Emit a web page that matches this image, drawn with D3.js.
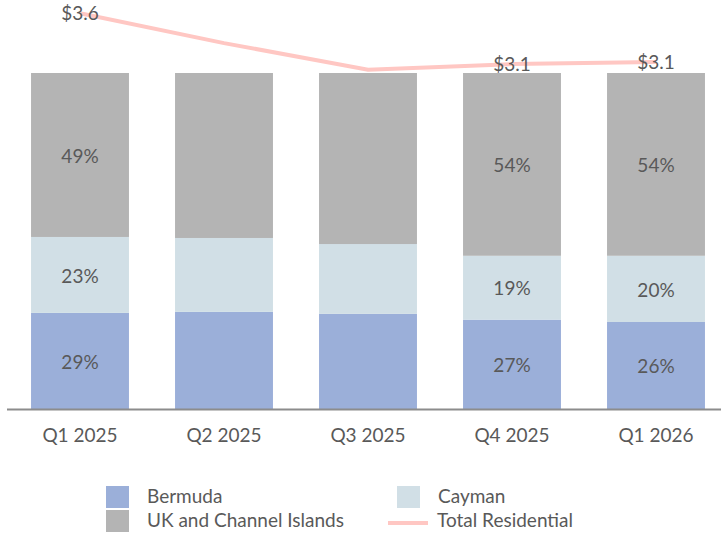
<!DOCTYPE html>
<html>
<head>
<meta charset="utf-8">
<script src="https://cdn.jsdelivr.net/npm/d3@7"></script>
<style>
    body { margin: 0; background: #fff; }
    svg text { font-family: Lato, "Open Sans", sans-serif; fill: #595959; }
</style>
</head>
<body>
<script>
(function(){

    var quarters = ["Q1 2025", "Q2 2025", "Q3 2025", "Q4 2025", "Q1 2026"];
    var bermuda = [28.6, 28.9, 28.3, 26.6, 25.9];
    var cayman = [22.6, 22.0, 20.8, 19.0, 19.7];
    var ukChannel = [48.8, 49.1, 50.9, 54.4, 54.4];
    var totalResidential = [3.58, 3.31, 3.07, 3.12, 3.14];
    var showLabel = [true, false, false, true, true];

    var seriesNames = ["Bermuda", "Cayman", "UK and Channel Islands"];
    var seriesValues = [bermuda, cayman, ukChannel];
    var seriesColors = ["#9bafd9", "#d1dfe6", "#b4b4b4"];
    var lineColor = "#ffc7c3";

    window.onload = drawChart();

    function drawChart() {

        var width = 721,
            height = 535,
            plotTop = 73,
            plotBottom = 409,
            fontSize = "19px";

        var svg = d3.select("body")
            .append("svg")
            .attr("width", width)
            .attr("height", height);

        var x = d3.scaleBand()
            .domain(quarters)
            .range([8, 728])
            .paddingInner(0.32)
            .paddingOuter(0.16);

        var y = d3.scaleLinear()
            .domain([0, 100])
            .range([plotBottom, plotTop]);

        var y2 = d3.scaleLinear()
            .domain([0, 3.7])
            .range([plotBottom, 0]);

        // stack the shares
        var rows = quarters.map(function(q, i) {
            var r = { quarter: q, label: showLabel[i] };
            seriesNames.forEach(function(s, j) { r[s] = seriesValues[j][i]; });
            return r;
        });
        var stacked = d3.stack().keys(seriesNames)(rows);

        var layers = svg.selectAll(".layer")
            .data(stacked)
            .enter()
            .append("g")
            .attr("class", "layer")
            .style("fill", function(d, i) { return seriesColors[i]; });

        layers.selectAll("rect")
            .data(function(d) { return d; })
            .enter()
            .append("rect")
            .attr("x", function(d) { return x(d.data.quarter); })
            .attr("width", x.bandwidth())
            .attr("y", function(d) { return y(d[1]); })
            .attr("height", function(d) { return y(d[0]) - y(d[1]); });

        layers.selectAll(".pct")
            .data(function(d) { return d.filter(function(e) { return e.data.label; }); })
            .enter()
            .append("text")
            .attr("class", "pct")
            .attr("text-anchor", "middle")
            .attr("dy", "0.35em")
            .style("font-size", fontSize)
            .attr("x", function(d) { return x(d.data.quarter) + x.bandwidth() / 2; })
            .attr("y", function(d) { return (y(d[0]) + y(d[1])) / 2 + 1; })
            .text(function(d) { return Math.round(d[1] - d[0]) + "%"; });

        // x axis
        var xAxis = d3.axisBottom(x).tickSize(0).tickPadding(20);
        var axis = svg.append("g")
            .attr("class", "axis")
            .attr("transform", "translate(0," + plotBottom + ")")
            .call(xAxis);
        axis.select(".domain").remove();
        axis.selectAll("text")
            .style("font-size", fontSize)
            .style("fill", "#595959");
        svg.append("line")
            .attr("x1", 7)
            .attr("x2", width)
            .attr("y1", plotBottom + 0.5)
            .attr("y2", plotBottom + 0.5)
            .style("stroke", "#8c8c8c")
            .style("stroke-width", 2);

        // total residential line
        var line = d3.line()
            .x(function(d, i) { return x(quarters[i]) + x.bandwidth() / 2; })
            .y(function(d) { return y2(d); });

        svg.append("path")
            .datum(totalResidential)
            .attr("d", line)
            .style("fill", "none")
            .style("stroke", lineColor)
            .style("stroke-width", 4);

        svg.selectAll(".lineLabel")
            .data(totalResidential.map(function(v, i) { return { q: quarters[i], v: v, show: showLabel[i] }; })
                .filter(function(d) { return d.show; }))
            .enter()
            .append("text")
            .attr("class", "lineLabel")
            .attr("text-anchor", "middle")
            .attr("dy", "0.35em")
            .style("font-size", fontSize)
            .attr("x", function(d) { return x(d.q) + x.bandwidth() / 2; })
            .attr("y", function(d) { return y2(d.v); })
            .text(function(d) { return "$" + d3.format(".1f")(d.v); });

        // legend
        var legendItems = [
            { name: "Bermuda", color: seriesColors[0], type: "box", x: 106, y: 486 },
            { name: "Cayman", color: seriesColors[1], type: "box", x: 397, y: 486 },
            { name: "UK and Channel Islands", color: seriesColors[2], type: "box", x: 106, y: 510 },
            { name: "Total Residential", color: lineColor, type: "line", x: 388, y: 510 }
        ];

        var legend = svg.selectAll(".legend")
            .data(legendItems)
            .enter()
            .append("g")
            .attr("class", "legend")
            .attr("transform", function(d) { return "translate(" + d.x + "," + d.y + ")"; });

        legend.filter(function(d) { return d.type == "box"; })
            .append("rect")
            .attr("width", 23)
            .attr("height", 22)
            .style("fill", function(d) { return d.color; });

        legend.filter(function(d) { return d.type == "line"; })
            .append("line")
            .attr("x1", 0)
            .attr("x2", 40)
            .attr("y1", 13)
            .attr("y2", 13)
            .style("stroke", function(d) { return d.color; })
            .style("stroke-width", 4);

        legend.append("text")
            .attr("x", function(d) { return d.type == "box" ? 41 : 49; })
            .attr("y", 17)
            .style("font-size", fontSize)
            .text(function(d) { return d.name; });
    }

})();
</script>
</body>
</html>
